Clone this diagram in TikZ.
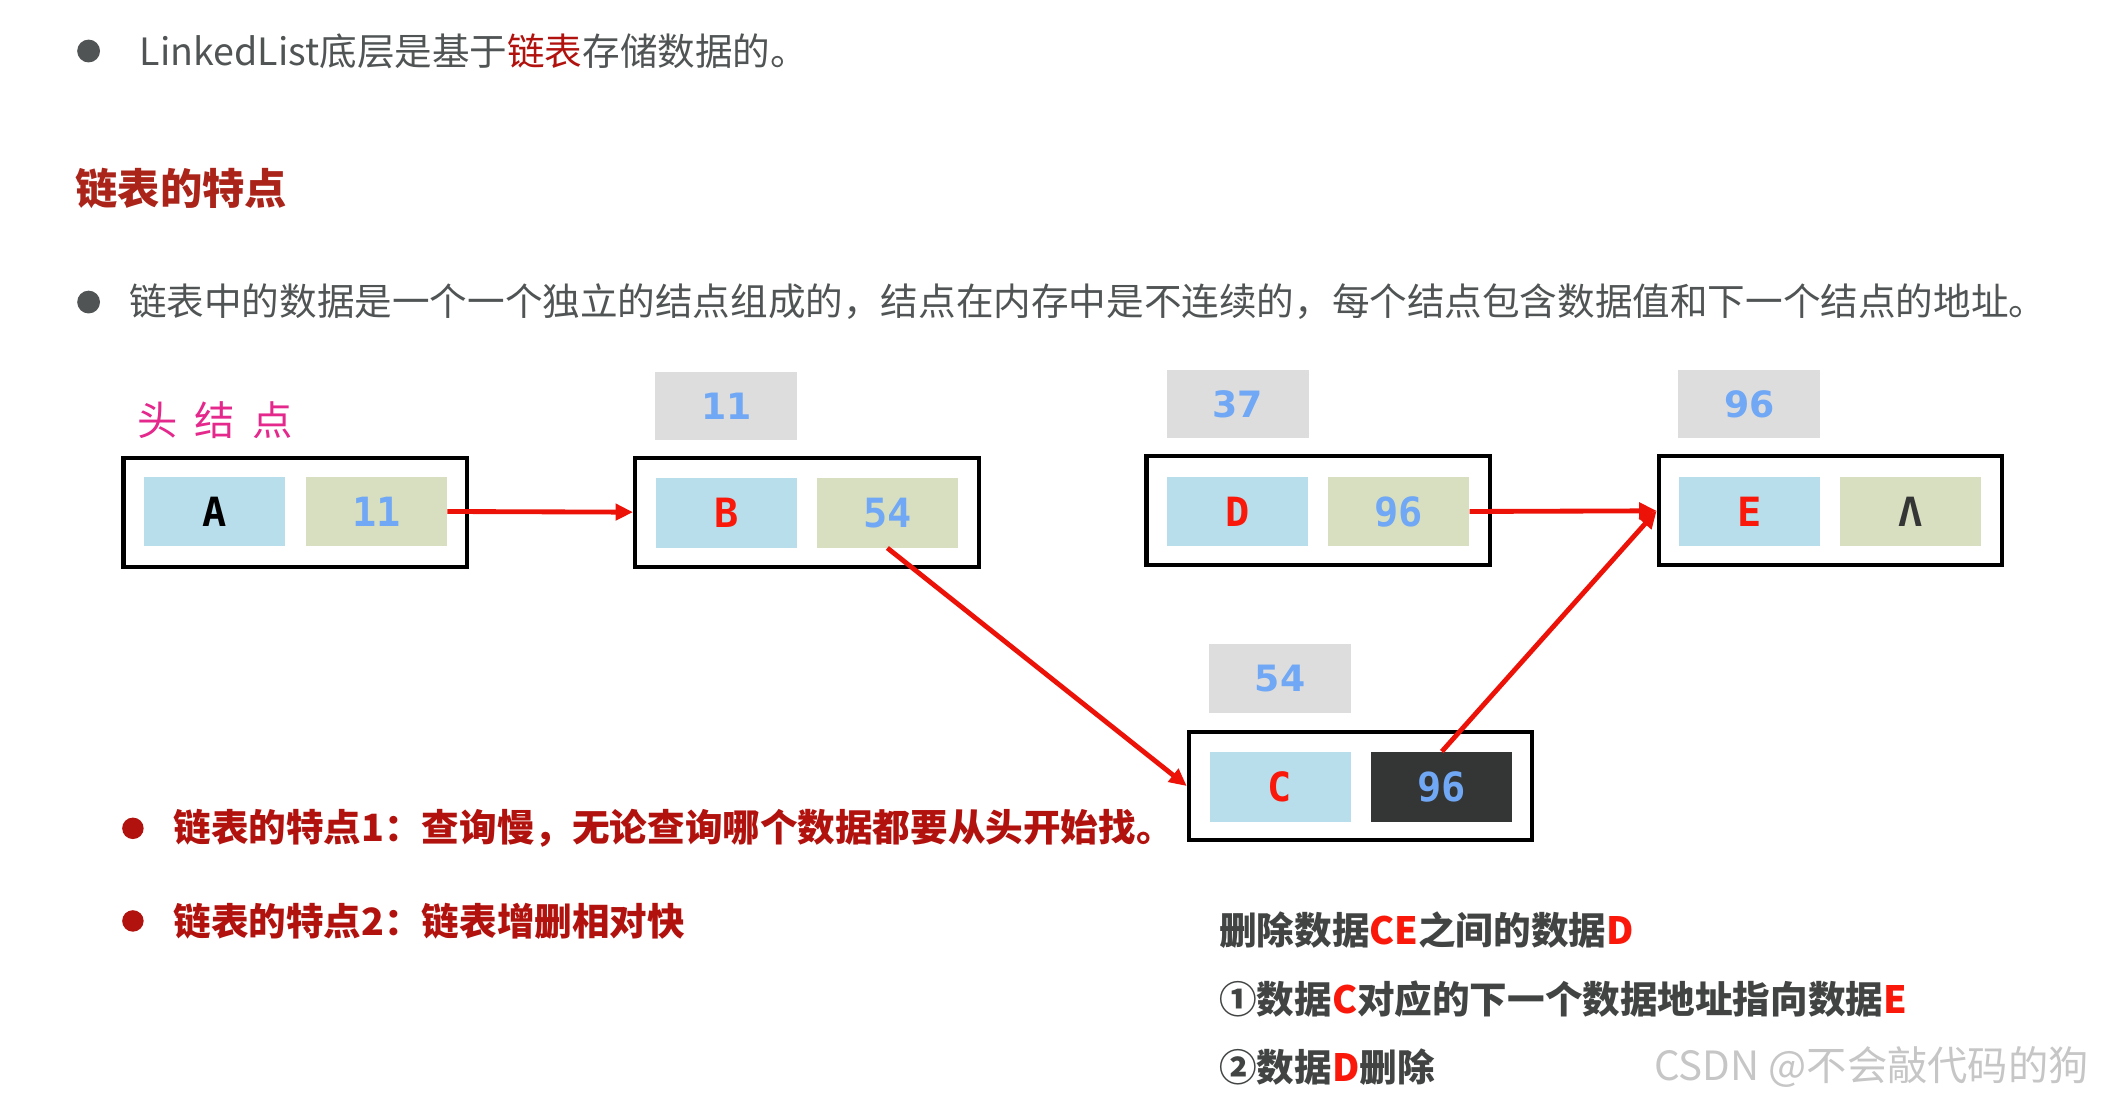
\documentclass[tikz,border=0pt]{standalone}
\usepackage{fontspec}
\newfontfamily\cjk{Noto Sans CJK SC}
\newfontfamily\mono{DejaVu Sans Mono}
\newfontfamily\lab{DejaVu Sans}
\usetikzlibrary{arrows.meta}
\definecolor{cellblue}{RGB}{183,222,234}
\definecolor{cellgreen}{RGB}{215,223,192}
\definecolor{labgray}{RGB}{221,221,221}
\definecolor{darkcell}{RGB}{52,54,54}
\definecolor{digitblue}{RGB}{112,168,245}
\definecolor{letterred}{RGB}{250,24,10}
\definecolor{linkred}{RGB}{236,18,8}
\definecolor{headred}{RGB}{170,36,26}
\definecolor{bulletred}{RGB}{178,18,14}
\definecolor{pinktxt}{RGB}{228,40,140}
\definecolor{bodygray}{RGB}{80,84,84}
\definecolor{notegray}{RGB}{66,68,68}
\definecolor{marktxt}{RGB}{198,198,198}
\begin{document}
\begin{tikzpicture}[x=1pt,y=-1pt,
  frame/.style={draw=black, line width=3pt, minimum width=256pt, minimum height=81pt, inner sep=0pt},
  cell/.style={minimum width=105pt, minimum height=52pt, inner sep=0pt, font=\mono\bfseries\fontsize{30}{30}\selectfont},
  datacell/.style={cell, fill=cellblue},
  nextcell/.style={cell, fill=cellgreen, text=digitblue},
  addr/.style={fill=labgray, minimum width=106pt, minimum height=51pt, inner sep=0pt, text=digitblue, font=\lab\bfseries\fontsize{27}{27}\selectfont},
  link/.style={draw=linkred, line width=3.6pt, -{Triangle[length=13pt,width=12pt]}},
  txt/.style={anchor=west, inner sep=0pt, font=\cjk\fontsize{28}{30}\selectfont},
  btxt/.style={txt, font=\cjk\bfseries\fontsize{28}{30}\selectfont},
  graydot/.style={fill=bodygray, draw=none},
  reddot/.style={fill=bulletred, draw=none}
]
\useasboundingbox[fill=white] (0,0) rectangle (1568,822);

% top texts
\fill[graydot] (66,38) circle (8.5pt);
\node[txt, text=bodygray] (t1) at (104,38) {LinkedList底层是基于\textcolor{bulletred}{链表}存储数据的。};
\node[btxt, text=headred, font=\cjk\bfseries\fontsize{31.5}{33}\selectfont] (head) at (56,140) {链表的特点};
\fill[graydot] (66,225) circle (8.5pt);
\node[txt, text=bodygray] (t2) at (96,225) {链表中的数据是一个一个独立的结点组成的，结点在内存中是不连续的，每个结点包含数据值和下一个结点的地址。};

% head label
\node[txt, text=pinktxt, font=\cjk\fontsize{30}{32}\selectfont] (headlbl) at (102,313) {头\hspace{13pt}结\hspace{13pt}点};

% node A
\node[frame] (boxA) at (220,381.5) {};
\node[datacell] (A) at (159.5,381) {A};
\node[nextcell] (A11) at (280.5,381) {11};

% node B
\node[addr] (addrB) at (541,302.5) {11};
\node[frame] (boxB) at (601,381.5) {};
\node[datacell, text=letterred] (B) at (541,382) {B};
\node[nextcell] (B54) at (661,382) {54};

% node D
\node[addr] (addrD) at (922,301) {37};
\node[frame] (boxD) at (982,380.5) {};
\node[datacell, text=letterred] (D) at (922,381) {D};
\node[nextcell] (D96) at (1042,381) {96};

% node E
\node[addr] (addrE) at (1303,301) {96};
\node[frame] (boxE) at (1363.5,380.5) {};
\node[datacell, text=letterred] (E) at (1303,381) {E};
\node[nextcell, text=darkcell] (Enil) at (1423,381) {Λ};

% node C
\node[addr] (addrC) at (953.5,505.5) {54};
\node[frame] (boxC) at (1013.5,585.5) {};
\node[datacell, text=letterred] (C) at (953.5,586) {C};
\node[cell, fill=darkcell, text=digitblue] (C96) at (1074,586) {96};

% links
\draw[link] (A11.east) -- (boxB.west);
\draw[link] (D96.east) -- (boxE.west);
\draw[link] (B54.south) -- (boxC.west);
\draw[link] (C96.north) -- (boxE.west);

% red bullets
\fill[reddot] (99,617) circle (8pt);
\node[btxt, text=bulletred] (p1) at (129,617) {链表的特点1：查询慢，无论查询哪个数据都要从头开始找。};
\fill[reddot] (99,686) circle (8pt);
\node[btxt, text=bulletred] (p2) at (129,686) {链表的特点2：链表增删相对快};

% notes
\node[btxt, text=notegray] (n1) at (908,693) {删除数据\textcolor{letterred}{CE}之间的数据\textcolor{letterred}{D}};
\node[btxt, text=notegray] (n2) at (908,744) {①数据\textcolor{letterred}{C}对应的下一个数据地址指向数据\textcolor{letterred}{E}};
\node[btxt, text=notegray] (n3) at (908,795) {②数据\textcolor{letterred}{D}删除};

% watermark
\node[txt, text=marktxt, font=\cjk\fontsize{30}{32}\selectfont] (mark) at (1232,795) {CSDN @不会敲代码的狗};
\end{tikzpicture}
\end{document}
